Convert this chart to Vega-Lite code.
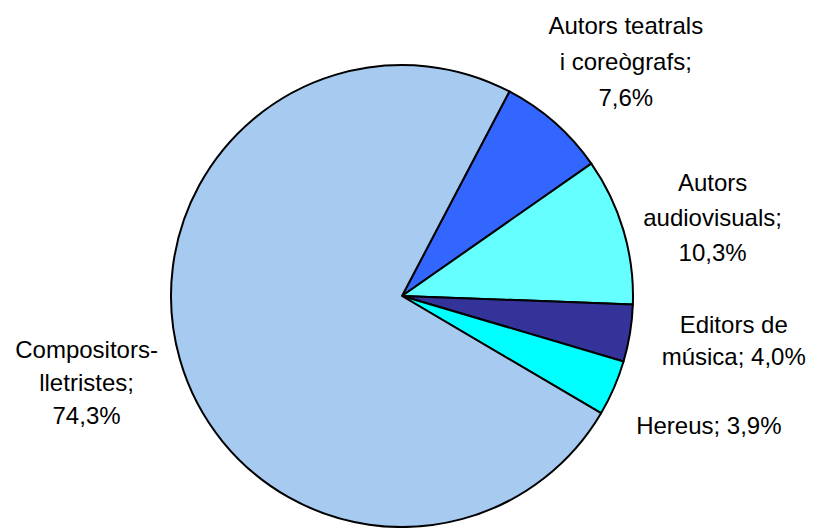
{
  "$schema": "https://vega.github.io/schema/vega-lite/v6.json",
  "width": 804,
  "height": 464,
  "autosize": "none",
  "padding": {"left": 0, "top": 64, "right": 16, "bottom": 0},
  "background": "white",
  "config": {"view": {"stroke": null}, "text": {"font": "Liberation Sans", "fontSize": 24, "lineBreak": "|", "align": "center", "baseline": "middle", "fill": "black", "radius": 328}},
  "data": {
    "values": [
      {"cat": "Autors teatrals i coreògrafs", "label": "Autors teatrals|i coreògrafs;|7,6%", "pct": 7.6, "ord": 1},
      {"cat": "Autors audiovisuals", "label": "Autors|audiovisuals;|10,3%", "pct": 10.3, "ord": 2},
      {"cat": "Editors de música", "label": "Editors de|música; 4,0%", "pct": 4.0, "ord": 3},
      {"cat": "Hereus", "label": "Hereus; 3,9%", "pct": 3.9, "ord": 4},
      {"cat": "Compositors-lletristes", "label": "Compositors-|lletristes;|74,3%", "pct": 74.3, "ord": 5}
    ]
  },
  "encoding": {
    "theta": {"field": "pct", "type": "quantitative", "stack": true, "scale": {"range": [0.4835, 6.7667]}},
    "order": {"field": "ord", "type": "quantitative"}
  },
  "layer": [
    {
      "mark": {"type": "arc", "outerRadius": 231, "stroke": "black", "strokeWidth": 2, "strokeJoin": "round"},
      "encoding": {
        "color": {
          "field": "cat",
          "type": "nominal",
          "scale": {
            "domain": ["Autors teatrals i coreògrafs", "Autors audiovisuals", "Editors de música", "Hereus", "Compositors-lletristes"],
            "range": ["#3366FF", "#66FFFF", "#333399", "#00FFFF", "#A6CAF0"]
          },
          "legend": null
        }
      }
    },
    {
      "mark": {"type": "text", "dx": 7, "dy": -23, "lineHeight": 36},
      "encoding": {"text": {"condition": {"test": "datum.ord !== 1", "value": ""}, "field": "label", "type": "nominal"}}
    },
    {
      "mark": {"type": "text", "dx": -4, "dy": -19, "lineHeight": 35},
      "encoding": {"text": {"condition": {"test": "datum.ord !== 2", "value": ""}, "field": "label", "type": "nominal"}}
    },
    {
      "mark": {"type": "text", "dx": 8, "dy": -23, "lineHeight": 32},
      "encoding": {"text": {"condition": {"test": "datum.ord !== 3", "value": ""}, "field": "label", "type": "nominal"}}
    },
    {
      "mark": {"type": "text", "dx": 6, "dy": 0, "lineHeight": 33},
      "encoding": {"text": {"condition": {"test": "datum.ord !== 4", "value": ""}, "field": "label", "type": "nominal"}}
    },
    {
      "mark": {"type": "text", "dx": 0, "dy": -35, "lineHeight": 33},
      "encoding": {"text": {"condition": {"test": "datum.ord !== 5", "value": ""}, "field": "label", "type": "nominal"}}
    }
  ]
}
